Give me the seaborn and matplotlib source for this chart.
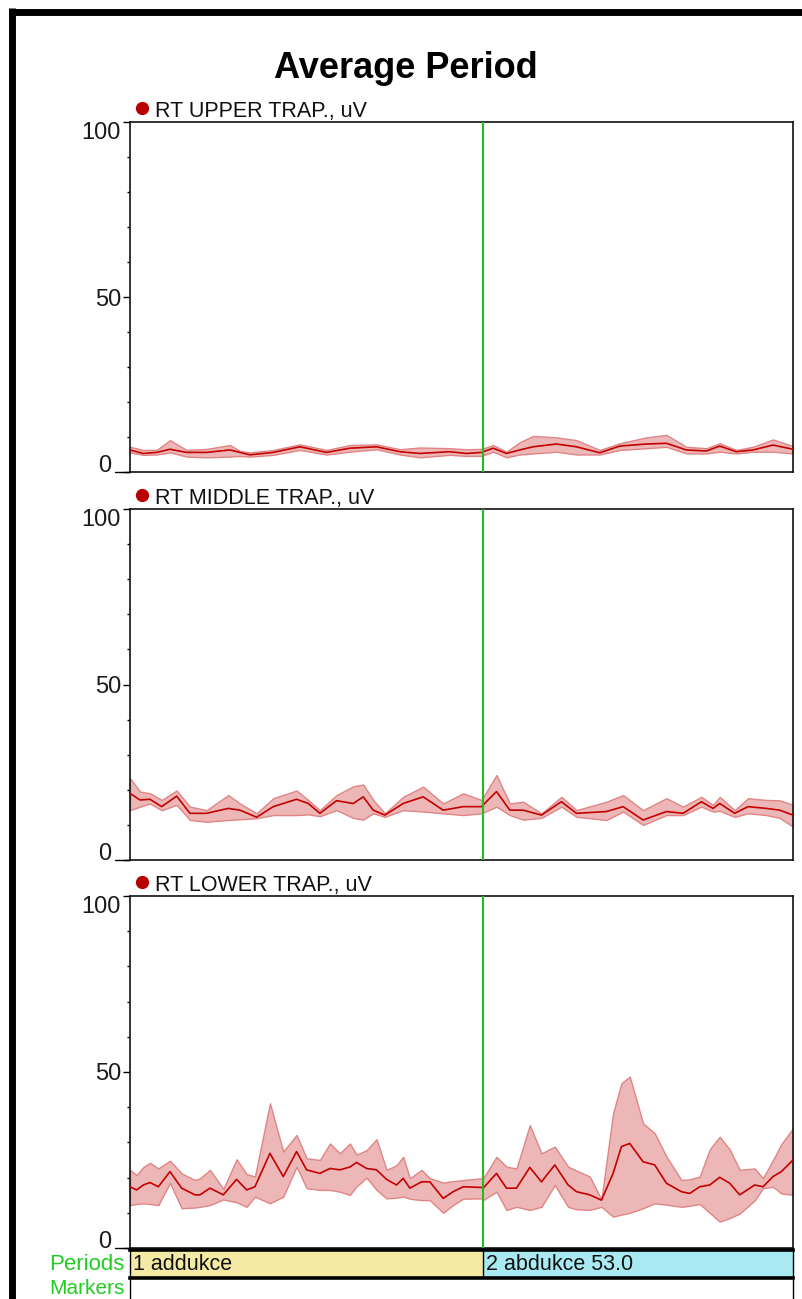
import numpy as np
import pandas as pd
import matplotlib
matplotlib.use("Agg")
import matplotlib.pyplot as plt
import seaborn as sns
from matplotlib.lines import Line2D
from matplotlib.ticker import MultipleLocator
from matplotlib.transforms import ScaledTranslation

# ---------------- data ----------------
TITLE = "Average Period"
CHANNELS = ["RT UPPER TRAP., uV", "RT MIDDLE TRAP., uV", "RT LOWER TRAP., uV"]
Y_TICKS = [0, 50, 100]
Y_TICK_LABELS = ["0", "50", "100"]
PERIOD_NAMES = ["1 addukce", "2 abdukce 53.0"]
PERIOD_STARTS = [0.0, 53.0]
PERIOD_END = 99.5

# upper trap.
T1 = [0, 2, 4, 6, 8.5, 11.5, 15, 16.5, 18, 21.5, 25.5, 29.5, 33, 37, 40.5, 43.5, 48, 50.5,
      52.75, 54.5, 56.5, 58.5, 60.5, 64, 67, 70.5, 73.5, 77.5, 80.5, 83.5, 86.5, 88.5, 91, 93.5, 96.5, 99.5]
M1 = [6.3, 5.3, 5.6, 6.5, 5.6, 5.6, 6.3, 5.6, 4.9, 5.6, 7.2, 5.6, 6.8, 7.2, 5.8, 5.3, 5.8, 5.3,
      5.6, 6.8, 5.3, 6.3, 7.2, 8.0, 7.2, 5.5, 7.4, 8.0, 8.2, 6.3, 6.0, 7.4, 5.8, 6.3, 7.7, 6.5]
HI1 = [7.2, 6.3, 6.3, 9.1, 6.3, 6.6, 7.7, 6.0, 5.6, 6.3, 7.9, 6.3, 7.7, 7.9, 6.5, 7.0, 6.8, 6.5,
       6.6, 7.7, 5.8, 8.5, 10.3, 9.9, 9.1, 6.3, 8.2, 9.9, 10.6, 7.2, 6.8, 8.2, 6.3, 7.2, 9.3, 7.4]
LO1 = [5.6, 4.9, 5.0, 5.6, 4.4, 4.2, 4.4, 4.6, 4.4, 4.9, 6.3, 5.0, 5.8, 6.5, 5.0, 4.2, 4.9, 4.6,
       4.6, 5.8, 4.2, 5.0, 5.3, 5.8, 5.0, 5.0, 6.3, 6.8, 7.2, 5.3, 5.3, 5.8, 5.3, 5.8, 5.8, 5.3]

# middle trap.
T2 = [0, 1.5, 3, 4.75, 7, 9, 11.5, 14.75, 16.5, 19, 21.5, 25, 26.75, 28.5, 31, 33.5, 35, 36.5,
      38.25, 41, 44, 47, 50, 52.75, 55, 57, 59, 61.75, 64.75, 67, 71.5, 74, 77, 80.5, 83, 85.75,
      87.5, 88.5, 90.75, 92.75, 95.5, 97.5, 99.5]
M2 = [19.0, 17.1, 17.3, 15.2, 18.2, 13.3, 13.3, 14.7, 14.2, 12.2,
      15.2, 17.3, 16.1, 13.3, 16.9, 16.1, 18.0, 14.2, 12.8, 16.1,
      18.0, 14.2, 15.2, 15.2, 19.5, 14.2, 14.2, 12.8, 16.6, 13.3,
      13.8, 15.2, 11.4, 13.8, 13.3, 16.6, 14.7, 16.1, 13.3, 15.2,
      14.7, 14.2, 12.8]
HI2 = [23.3, 19.5, 19.0, 17.1, 19.8, 15.2, 14.2, 18.5, 16.1, 13.3,
       17.6, 19.8, 17.1, 14.2, 18.5, 21.0, 21.5, 17.1, 13.3, 18.0,
       20.9, 16.1, 19.0, 17.1, 24.2, 16.1, 16.6, 13.3, 18.0, 14.2,
       16.6, 18.5, 14.2, 17.6, 15.2, 18.0, 15.7, 18.0, 14.2, 17.6,
       17.1, 17.0, 15.7]
LO2 = [14.2, 15.2, 16.1, 14.2, 15.7, 11.4, 10.9, 11.4, 11.6, 11.9,
       12.8, 12.8, 13.0, 12.5, 14.2, 12.0, 11.5, 13.3, 12.3, 14.2,
       13.8, 13.3, 12.8, 13.3, 15.2, 12.8, 11.5, 12.0, 15.2, 12.3,
       11.4, 13.8, 10.0, 12.8, 12.8, 15.2, 13.8, 14.0, 12.3, 13.3,
       12.8, 12.0, 9.5]

# lower trap.
T3 = [0, 1, 2, 3, 4.25, 6, 7.75, 9.75, 10.5, 12,
      14, 16, 17.5, 18.75, 21, 23, 25, 26.5, 28.5, 30,
      31.5, 33, 34, 35.5, 37, 38.5, 40, 41, 42, 43.75,
      45, 47, 48.5, 50, 52.75, 53, 55, 56.5, 58, 60,
      61.75, 63.75, 65.75, 67, 69, 70.75, 72.5, 73.75, 75, 77,
      78.75, 80.5, 82.75, 84, 85.5, 87, 88.5, 90, 91.5, 93.75,
      95, 96.5, 97.75, 99.5]
M3 = [17.4, 16.5, 17.9, 18.6, 17.4, 21.7, 17.0, 15.1, 15.1, 17.0,
      15.1, 19.5, 16.5, 17.4, 26.9, 20.3, 27.4, 22.2, 21.2, 22.6,
      22.2, 23.0, 24.3, 22.6, 22.2, 19.5, 17.9, 19.8, 17.0, 18.8,
      18.8, 14.1, 16.0, 17.4, 17.2, 17.0, 21.2, 17.0, 17.0, 22.9,
      18.8, 23.6, 17.9, 16.0, 15.1, 13.6, 21.2, 28.8, 29.7, 24.5,
      23.6, 18.4, 16.0, 15.5, 17.4, 17.9, 20.1, 18.4, 15.1, 17.9,
      17.4, 20.3, 21.7, 25.0]
HI3 = [22.2, 20.7, 23.0, 24.2, 22.6, 24.8, 21.2, 19.3, 19.8, 22.2,
       16.8, 25.2, 21.0, 20.3, 41.1, 27.4, 32.1, 25.5, 25.0, 29.7,
       26.9, 29.7, 26.5, 27.8, 30.9, 22.2, 23.5, 25.9, 19.8, 22.2,
       19.8, 18.6, 19.0, 19.3, 19.8, 19.8, 25.9, 23.1, 22.6, 34.9,
       26.9, 28.8, 23.1, 22.0, 20.3, 13.8, 38.3, 46.8, 48.7, 35.4,
       32.6, 26.0, 19.3, 19.5, 20.3, 28.0, 31.6, 28.0, 22.2, 22.6,
       19.8, 25.0, 29.5, 34.0]
LO3 = [12.2, 12.5, 12.7, 12.5, 12.2, 18.5, 11.3, 11.5, 11.7, 12.2,
       13.8, 13.0, 11.7, 14.6, 12.7, 14.6, 23.1, 17.0, 16.5, 16.5,
       16.0, 15.1, 17.5, 20.0, 16.5, 14.1, 14.3, 14.6, 14.0, 13.6,
       13.6, 10.0, 12.2, 14.0, 14.1, 13.6, 16.0, 10.8, 11.7, 10.8,
       11.7, 17.9, 11.7, 11.0, 10.8, 11.7, 8.9, 9.5, 10.0, 11.3,
       12.7, 12.3, 11.7, 12.0, 12.5, 10.0, 7.5, 8.5, 9.8, 13.5,
       17.0, 17.4, 15.5, 15.1]

SERIES = [(T1, M1, LO1, HI1), (T2, M2, LO2, HI2), (T3, M3, LO3, HI3)]

# ---------------- style ----------------
W, H = 803, 1299
sns.set_style("white")
plt.rcParams['font.family'] = ['Liberation Sans', 'DejaVu Sans']

LINE_C = "#C40000"
FILL_C = "#EDB7B7"
EDGE_C = "#DF8585"
GREEN = "#22BB22"
GREEN_T = "#22CC22"
DOT_C = "#B80000"
PERIOD_COLORS = ["#F5E9A6", "#A8E9F2"]

fig = plt.figure(figsize=(W / 100, H / 100), dpi=100)


def rect(x0, y0, x1, y1):
    return [x0 / W, 1 - y1 / H, (x1 - x0) / W, (y1 - y0) / H]


def fx(x):
    return x / W


def fy(y):
    return 1 - y / H


PANEL_Y = [(122, 472), (509, 860), (896, 1248)]
X0, X1 = 130, 793

for (top, bot), name, (T, M, LO, HI) in zip(PANEL_Y, CHANNELS, SERIES):
    ax = fig.add_axes(rect(X0, top, X1, bot))
    df = pd.DataFrame({"t": T, "mean": M, "lo": LO, "hi": HI})
    ax.fill_between(df["t"], df["lo"], df["hi"], facecolor=FILL_C,
                    edgecolor=EDGE_C, lw=1.0, zorder=1)
    sns.lineplot(data=df, x="t", y="mean", ax=ax, color=LINE_C, lw=1.2,
                 zorder=3, legend=False)
    ax.axvline(PERIOD_STARTS[1], color=GREEN, lw=1.5, zorder=4)
    ax.set_xlim(0, PERIOD_END)
    ax.set_ylim(0, 100)
    ax.set_xlabel("")
    ax.set_ylabel("")
    ax.set_xticks([])
    ax.set_yticks(Y_TICKS)
    ax.set_yticklabels(Y_TICK_LABELS, fontsize=17)
    ax.yaxis.set_minor_locator(MultipleLocator(10))
    ax.tick_params(axis="y", which="both", left=True, direction="out",
                   color="black", width=1)
    ax.tick_params(axis="y", which="major", length=5, pad=1.5, labelcolor="#1a1a1a")
    ax.tick_params(axis="y", which="minor", length=2.2)
    labs = ax.get_yticklabels()
    labs[0].set_va("baseline")
    labs[0].set_transform(labs[0].get_transform() +
                          ScaledTranslation(-10 / 100, 0, fig.dpi_scale_trans))
    labs[2].set_va("top")
    for s in ax.spines.values():
        s.set_color("#111111")
        s.set_linewidth(1.2)
        s.set_visible(True)
    ax.add_line(Line2D([-15 / (X1 - X0), 0], [0, 0], transform=ax.transAxes,
                       clip_on=False, color="black", lw=1))
    # channel label
    fig.text(fx(155), fy(top - 5), name, fontsize=15.5, ha="left",
             va="baseline", color="#111111")
    fig.add_artist(Line2D([fx(142)], [fy(top - 14)], marker="o", ms=8.5,
                          ls="none", color=DOT_C, transform=fig.transFigure))

# ---------------- periods bar ----------------
pa = fig.add_axes(rect(X0, 1250, X1, 1278))
pa.set_xlim(0, PERIOD_END)
pa.set_ylim(0, 1)
ends = PERIOD_STARTS[1:] + [PERIOD_END]
for st, en, nm, col in zip(PERIOD_STARTS, ends, PERIOD_NAMES, PERIOD_COLORS):
    pa.axvspan(st, en, color=col, lw=0)
    pa.annotate(nm, xy=(st, 0.5), xytext=(3, 0), textcoords="offset pixels",
                va="center", ha="left", fontsize=15.5, color="#111111")
pa.axvline(PERIOD_STARTS[1], color="black", lw=1)
pa.set_xticks([])
pa.set_yticks([])
for k, s in pa.spines.items():
    s.set_visible(True)
    s.set_color("black")
    s.set_linewidth(2.6 if k in ("top", "bottom") else 1.0)

ma = fig.add_axes(rect(X0, 1280, X1, 1330))
ma.set_xticks([])
ma.set_yticks([])
for k, s in ma.spines.items():
    s.set_visible(k in ("left", "right"))
    s.set_color("black")
    s.set_linewidth(1.0)

fig.text(fx(125), fy(1264), "Periods", ha="right", va="center",
         fontsize=16, color=GREEN_T)
fig.text(fx(125), fy(1288), "Markers", ha="right", va="center",
         fontsize=15, color=GREEN_T)

# ---------------- title and frame ----------------
fig.text(fx(406), fy(68), TITLE, ha="center", va="center", fontsize=26,
         fontweight="bold", color="black")
fig.add_artist(Line2D([fx(12.5), fx(12.5)], [fy(8), fy(H + 10)], lw=5,
                      color="black", solid_capstyle="butt", transform=fig.transFigure))
fig.add_artist(Line2D([fx(9), fx(W + 10)], [fy(11.5), fy(11.5)], lw=5,
                      color="black", solid_capstyle="butt", transform=fig.transFigure))

fig.savefig("out.png", dpi=100)
